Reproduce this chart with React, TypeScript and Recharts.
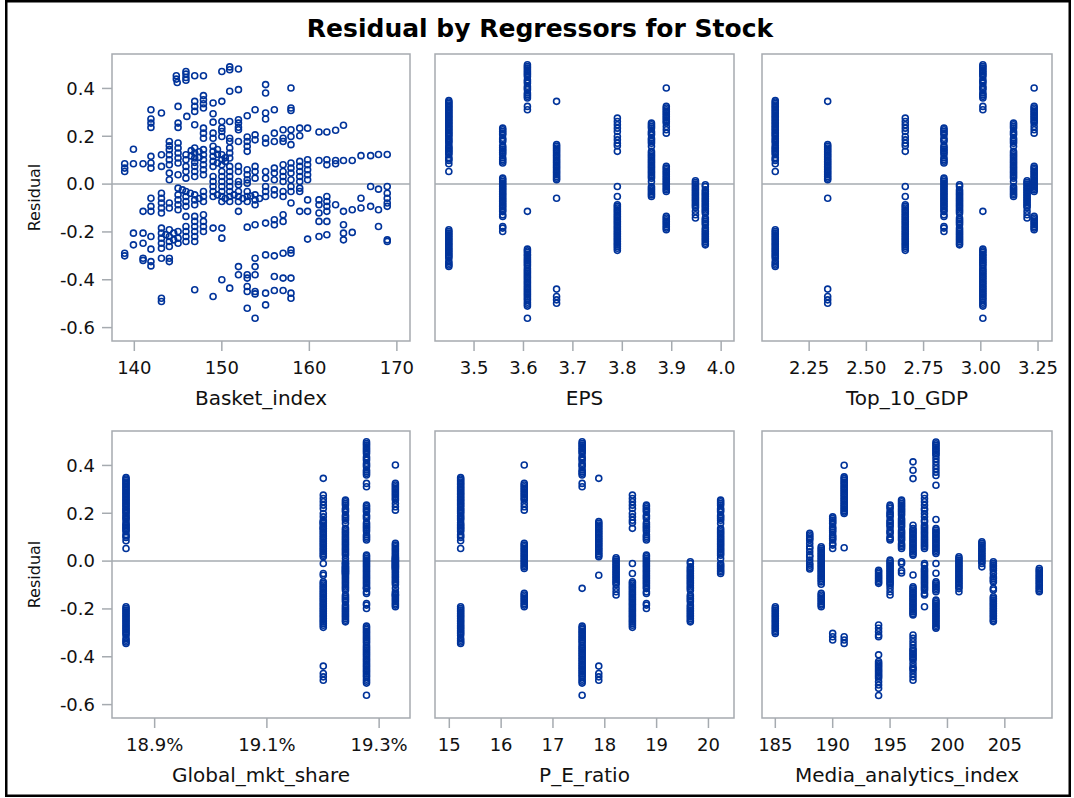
import React from 'react';
import { ScatterChart, Scatter, XAxis, YAxis, ReferenceArea, ReferenceLine } from 'recharts';

const BLUE = '#00339A';
const FRAME = '#A6ABB0';
const TEXT = '#111111';
const FONT = '"DejaVu Sans", sans-serif';

const Y_DOMAIN: [number, number] = [-0.656, 0.544];
const Y_TICKS = [-0.6, -0.4, -0.2, 0, 0.2, 0.4];

// Residuals of the observations in each reporting period (regressors are constant inside a period)
const resA = [0.349, 0.343, 0.337, 0.331, 0.325, 0.319, 0.313, 0.307, 0.301, 0.295, 0.289, 0.283, 0.277, 0.271, 0.265, 0.259, 0.253, 0.247, 0.241, 0.235, 0.229, 0.223, 0.217, 0.211, 0.205, 0.199, 0.191, 0.184, 0.178, 0.172, 0.160, 0.154, 0.148, 0.142, 0.136, 0.130, 0.124, 0.111, 0.105, 0.099, 0.085, 0.053,
  -0.191, -0.198, -0.205, -0.212, -0.219, -0.226, -0.233, -0.240, -0.247, -0.254, -0.261, -0.268, -0.275, -0.282, -0.289, -0.296, -0.303, -0.310, -0.324, -0.331, -0.338, -0.344];
const resB = [0.234, 0.227, 0.220, 0.213, 0.206, 0.192, 0.185, 0.178, 0.160, 0.153, 0.146, 0.139, 0.132, 0.125, 0.110, 0.103, 0.096, 0.088,
  0.025, 0.018, 0.011, 0.004, -0.003, -0.010, -0.017, -0.024, -0.031, -0.038, -0.045, -0.052, -0.059, -0.066, -0.073, -0.080, -0.087, -0.094, -0.101, -0.108, -0.115, -0.128, -0.135,
  -0.177, -0.184, -0.198];
const resC = [0.499, 0.492, 0.485, 0.478, 0.471, 0.464, 0.457, 0.450, 0.436, 0.429, 0.422, 0.409, 0.402, 0.395, 0.381, 0.374, 0.367, 0.360, 0.325, 0.311, -0.114,
  -0.272, -0.279, -0.286, -0.293, -0.300, -0.307, -0.314, -0.321, -0.328, -0.335, -0.342, -0.352, -0.359, -0.366, -0.373, -0.380, -0.387, -0.394, -0.401, -0.408, -0.415, -0.422, -0.429, -0.436, -0.443, -0.450, -0.457, -0.464, -0.471, -0.478, -0.485, -0.494, -0.502, -0.510, -0.561];
const resD = [0.346, 0.165, 0.158, 0.151, 0.144, 0.137, 0.130, 0.123, 0.116, 0.109, 0.102, 0.095, 0.088, 0.081, 0.074, 0.067, 0.060, 0.053, 0.046, 0.039, 0.032, 0.025, 0.018, -0.059,
  -0.439, -0.470, -0.484, -0.498];
const resE = [0.276, 0.262, 0.248, 0.234, 0.220, 0.199, 0.185, 0.171, 0.160, 0.137, -0.010, -0.052,
  -0.086, -0.093, -0.100, -0.107, -0.114, -0.121, -0.128, -0.135, -0.142, -0.149, -0.156, -0.163, -0.170, -0.177, -0.184, -0.191, -0.198, -0.205, -0.212, -0.219, -0.226, -0.233, -0.240, -0.247, -0.254, -0.261, -0.268, -0.277];
const resF = [0.255, 0.248, 0.241, 0.234, 0.220, 0.213, 0.206, 0.192, 0.185, 0.178, 0.171, 0.158,
  0.137, 0.130, 0.123, 0.116, 0.109, 0.102, 0.095, 0.088, 0.081, 0.074, 0.067, 0.060, 0.053, 0.046, 0.039, 0.032, 0.025, 0.011, -0.010, -0.017, -0.024, -0.031, -0.038, -0.045, -0.052];
const resG = [0.402, 0.325, 0.318, 0.311, 0.304, 0.297, 0.290, 0.283, 0.276, 0.269, 0.262, 0.255, 0.241, 0.227, 0.213,
  0.074, 0.067, 0.060, 0.053, 0.046, 0.039, 0.032, 0.025, 0.018, 0.011, 0.004, -0.003, -0.010, -0.017, -0.024, -0.031,
  -0.135, -0.142, -0.149, -0.156, -0.163, -0.170, -0.177, -0.184, -0.191];
const resH = [0.014, 0.007, 0.000, -0.007, -0.014, -0.021, -0.028, -0.035, -0.042, -0.049, -0.056, -0.063, -0.070, -0.077, -0.084, -0.091, -0.098, -0.114, -0.128, -0.142];
const resI = [-0.003, -0.010, -0.024, -0.031, -0.038, -0.045, -0.052, -0.059, -0.066, -0.073, -0.080, -0.087, -0.094, -0.101, -0.108, -0.115, -0.122,
  -0.142, -0.149, -0.156, -0.163, -0.170, -0.184, -0.191, -0.198, -0.205, -0.212, -0.219, -0.226, -0.233, -0.240, -0.247, -0.254];

const PERIODS = [resA, resB, resC, resD, resE, resF, resG, resH, resI];

// Regressor value of each period, same order as PERIODS
const EPS_BY_PERIOD = [3.449, 3.558, 3.608, 3.667, 3.790, 3.859, 3.889, 3.948, 3.968];
const GDP_BY_PERIOD = [2.102, 2.839, 3.009, 2.331, 2.670, 3.143, 3.233, 3.202, 2.907];
const SHARE_BY_PERIOD = [18.849, 19.2775, 19.2775, 19.2005, 19.2005, 19.240, 19.329, 19.329, 19.240];
const PE_BY_PERIOD = [15.219, 18.803, 17.563, 17.884, 18.533, 20.235, 16.446, 18.218, 19.651];

// Media_analytics_index is reported more often, so its columns are finer
const MEDIA_LEVELS = [185, 188, 189, 190, 191, 194, 195, 196, 197, 198, 199, 201, 203, 204, 208];
const media185 = [-0.191, -0.198, -0.205, -0.212, -0.219, -0.226, -0.233, -0.240, -0.247, -0.254, -0.261, -0.268, -0.275, -0.282, -0.289, -0.296, -0.303];
const media188 = [0.116, 0.109, 0.102, 0.095, 0.088, 0.074, 0.060, 0.053, 0.039, 0.025, 0.018, 0.004, -0.010, -0.017, -0.026, -0.033];
const media189 = [0.060, 0.053, 0.046, 0.039, 0.032, 0.025, 0.018, 0.011, 0.004, -0.003, -0.010, -0.017, -0.024, -0.031, -0.038, -0.045, -0.052, -0.059, -0.066, -0.073, -0.080, -0.087, -0.097,
  -0.135, -0.142, -0.149, -0.156, -0.163, -0.170, -0.177, -0.184, -0.191];
const media190 = [0.185, 0.178, 0.171, 0.164, 0.157, 0.143, 0.136, 0.129, 0.122, 0.109, 0.102, 0.095, 0.088, 0.074, 0.067, 0.053, -0.302, -0.316, -0.330];
const media191 = [0.401, 0.352, 0.345, 0.338, 0.331, 0.324, 0.317, 0.310, 0.303, 0.296, 0.289, 0.282, 0.275, 0.268, 0.261, 0.254, 0.247, 0.240, 0.233, 0.226, 0.219, 0.212, 0.205, 0.199, 0.056,
  -0.316, -0.330, -0.344];
const media194 = [-0.038, -0.045, -0.052, -0.059, -0.066, -0.073, -0.080, -0.087, -0.093, -0.267, -0.281, -0.295, -0.309, -0.316,
  -0.392, -0.420, -0.427, -0.434, -0.441, -0.448, -0.455, -0.462, -0.469, -0.476, -0.483, -0.490, -0.504, -0.518, -0.532, -0.562];
const media195 = [0.234, 0.227, 0.220, 0.206, 0.199, 0.192, 0.185, 0.171, 0.164, 0.157, 0.150, 0.143, 0.129, 0.122, 0.115, 0.101, 0.095, 0.088,
  0.004, -0.003, -0.010, -0.017, -0.024, -0.031, -0.038, -0.045, -0.052, -0.059, -0.066, -0.073, -0.080, -0.087, -0.094, -0.101, -0.114, -0.128, -0.142];
const media196 = [0.255, 0.248, 0.241, 0.234, 0.227, 0.220, 0.213, 0.206, 0.199, 0.192, 0.178, 0.171, 0.164, 0.157, 0.150, 0.143, 0.129, 0.122, 0.115, 0.108, 0.101, 0.094, 0.087, 0.073, 0.066, 0.060, 0.053,
  -0.003, -0.010, -0.040, -0.050];
const media197 = [0.415, 0.380, 0.345, 0.150, 0.136, 0.129, 0.122, 0.115, 0.108, 0.101, 0.094, 0.087, 0.080, 0.073, 0.066, 0.059, 0.052, 0.045, 0.038, 0.031, 0.025, -0.058,
  -0.107, -0.114, -0.121, -0.128, -0.135, -0.142, -0.149, -0.156, -0.163, -0.170, -0.177, -0.184, -0.191, -0.198, -0.205, -0.212, -0.219, -0.225,
  -0.309, -0.323, -0.337, -0.351, -0.365, -0.372, -0.379, -0.386, -0.393, -0.400, -0.407, -0.414, -0.428, -0.442, -0.449, -0.456, -0.470, -0.484, -0.498];
const media198 = [0.276, 0.262, 0.248, 0.234, 0.220, 0.213, 0.199, 0.185, 0.171, 0.164, 0.150, 0.143, 0.136, 0.129, 0.122, 0.115, 0.108, 0.101, 0.094, 0.087, 0.080, 0.073, 0.066, 0.060, 0.053,
  -0.010, -0.017, -0.031, -0.038, -0.045, -0.052, -0.059, -0.066, -0.073, -0.080, -0.087, -0.094, -0.101, -0.108, -0.115, -0.122, -0.135, -0.142, -0.191];
const media199 = [0.498, 0.491, 0.484, 0.477, 0.470, 0.463, 0.456, 0.449, 0.442, 0.428, 0.414, 0.400, 0.386, 0.372, 0.358, 0.317, 0.174,
  0.136, 0.129, 0.122, 0.115, 0.108, 0.101, 0.094, 0.087, 0.080, 0.073, 0.066, 0.059, 0.052, 0.045, 0.038, 0.032, -0.010, -0.051,
  -0.086, -0.093, -0.100, -0.107, -0.114, -0.121, -0.128,
  -0.163, -0.170, -0.177, -0.184, -0.191, -0.198, -0.205, -0.212, -0.219, -0.226, -0.233, -0.240, -0.247, -0.254, -0.261, -0.268, -0.275, -0.281];
const media201 = [0.018, 0.011, 0.004, -0.003, -0.010, -0.017, -0.024, -0.031, -0.038, -0.045, -0.052, -0.059, -0.066, -0.073, -0.080, -0.087, -0.094, -0.101, -0.108, -0.115, -0.128];
const media203 = [0.081, 0.074, 0.067, 0.060, 0.053, 0.046, 0.039, 0.032, 0.025, 0.018, 0.011, 0.004, -0.003, -0.010, -0.024];
const media204 = [-0.003, -0.010, -0.017, -0.024, -0.031, -0.038, -0.052, -0.066, -0.073, -0.080, -0.087, -0.114, -0.121,
  -0.149, -0.156, -0.163, -0.170, -0.177, -0.184, -0.191, -0.198, -0.205, -0.212, -0.219, -0.226, -0.233, -0.240, -0.247, -0.253];
const media208 = [-0.031, -0.038, -0.045, -0.052, -0.059, -0.066, -0.073, -0.080, -0.087, -0.094, -0.101, -0.108, -0.115, -0.122, -0.128];
const MEDIA_COLUMNS = [media185, media188, media189, media190, media191, media194, media195, media196, media197, media198, media199, media201, media203, media204, media208];

// Basket_index varies by observation: [Basket_index, Residual]
const basketPoints: [number, number][] = [
  [144.8, 0.453], [144.8, 0.439], [144.9, 0.425], [145.9, 0.471], [145.9, 0.460], [145.9, 0.446], [145.9, 0.434], [146.9, 0.453], [147.9, 0.453], [150.0, 0.471], [150.9, 0.490], [150.9, 0.478], [151.9, 0.481], [155.0, 0.416],
  [157.9, 0.402], [155.0, 0.381], [150.9, 0.388], [151.9, 0.395], [146.9, 0.346], [147.9, 0.370], [147.9, 0.353], [147.9, 0.336], [149.0, 0.339], [150.0, 0.346], [145.0, 0.325], [146.9, 0.325], [147.9, 0.318], [141.9, 0.311], [143.1, 0.297],
  [146.9, 0.304], [149.0, 0.294], [150.0, 0.262], [150.9, 0.262], [151.9, 0.269], [151.9, 0.238], [152.9, 0.286], [153.8, 0.311], [155.0, 0.297], [155.0, 0.272], [156.0, 0.311], [157.9, 0.318], [157.9, 0.308],
  [141.9, 0.272], [141.9, 0.255], [141.9, 0.237], [145.0, 0.255], [145.0, 0.237], [146.0, 0.283], [146.9, 0.248], [149.0, 0.259], [150.0, 0.234], [150.0, 0.220],
  [147.9, 0.234], [147.9, 0.213], [147.9, 0.192], [149.0, 0.192], [151.9, 0.255], [151.9, 0.227], [152.9, 0.197], [153.8, 0.206], [155.0, 0.192], [156.0, 0.213], [157.0, 0.227], [157.9, 0.227], [158.9, 0.234], [159.8, 0.234],
  [161.1, 0.218], [162.0, 0.218], [163.0, 0.225], [163.9, 0.246], [157.0, 0.192], [157.9, 0.199], [158.9, 0.202], [152.9, 0.178], [153.8, 0.185], [155.0, 0.172], [156.0, 0.178], [157.0, 0.178], [157.9, 0.165], [151.9, 0.178],
  [149.0, 0.213], [150.0, 0.199], [150.9, 0.192], [150.9, 0.178],
  [139.9, 0.146], [138.9, 0.085], [138.9, 0.067], [138.9, 0.053], [139.9, 0.085], [141.0, 0.085], [141.9, 0.116], [141.9, 0.088], [141.9, 0.067], [143.1, 0.123],
  [144.0, 0.178], [144.0, 0.160], [144.0, 0.144], [144.0, 0.123], [144.0, 0.102], [144.0, 0.081],
  [145.0, 0.172], [145.0, 0.151], [145.0, 0.130], [145.0, 0.109], [145.0, 0.088],
  [145.9, 0.123], [145.9, 0.102], [145.9, 0.074], [145.9, 0.053],
  [146.9, 0.151], [146.9, 0.130], [146.9, 0.109], [146.9, 0.091], [146.9, 0.074], [146.9, 0.053], [146.9, 0.032],
  [147.9, 0.144], [147.9, 0.123], [147.9, 0.102], [147.9, 0.081], [147.9, 0.060], [147.9, 0.039],
  [149.0, 0.158], [149.0, 0.137], [149.0, 0.116], [149.0, 0.095], [149.0, 0.074],
  [150.0, 0.123], [150.0, 0.102], [150.0, 0.081], [150.0, 0.053], [150.0, 0.032], [150.0, 0.011],
  [150.9, 0.151], [150.9, 0.130], [150.9, 0.109], [150.9, 0.074], [150.9, 0.053], [150.9, 0.032], [150.9, 0.011],
  [152.9, 0.158], [152.9, 0.137], [153.8, 0.074], [153.8, 0.053],
  [155.0, 0.053], [155.0, 0.025], [155.0, -0.010], [156.0, 0.067], [156.0, 0.046], [156.0, 0.018],
  [157.0, 0.081], [157.0, 0.053], [157.0, 0.032], [157.0, 0.011],
  [157.9, 0.088], [157.9, 0.067], [157.9, 0.046], [157.9, 0.018], [157.9, -0.010],
  [158.9, 0.095], [158.9, 0.074], [158.9, 0.053], [158.9, 0.032], [158.9, 0.011], [158.9, -0.017],
  [159.8, 0.102], [159.8, 0.081], [159.8, 0.060], [159.8, 0.039], [159.8, 0.018],
  [161.1, 0.099], [162.0, 0.102], [163.0, 0.099], [163.9, 0.099], [164.9, 0.099], [165.9, 0.119], [167.0, 0.119], [167.9, 0.124], [168.9, 0.124], [162.0, 0.081], [163.0, 0.085],
  [143.1, 0.074], [144.0, 0.046], [145.0, 0.039], [145.9, 0.025], [144.0, 0.018],
  [151.9, 0.074], [151.9, 0.053], [152.9, 0.060], [152.9, 0.039], [152.9, 0.018], [153.8, 0.025], [151.9, 0.011],
  [146.5, 0.140], [147.4, 0.135], [146.5, 0.118], [147.4, 0.112], [149.5, 0.145], [149.5, 0.125], [150.4, 0.110], [149.5, 0.088], [150.4, 0.095],
  [149.0, 0.032], [149.0, 0.011], [149.0, -0.010], [149.0, -0.031], [149.0, -0.052],
  [150.0, -0.010], [150.0, -0.031], [150.0, -0.052], [150.0, -0.073],
  [150.9, -0.010], [150.9, -0.031], [150.9, -0.052], [150.9, -0.073],
  [151.9, -0.003], [151.9, -0.031], [151.9, -0.052], [151.9, -0.073], [151.9, -0.114],
  [152.9, 0.004], [152.9, -0.031], [152.9, -0.052], [152.9, -0.073],
  [149.5, -0.045], [150.4, -0.060], [151.4, -0.045], [152.4, -0.060], [153.3, -0.050], [154.3, -0.060],
  [153.8, -0.045], [153.8, -0.066], [153.8, -0.086], [155.0, -0.031], [155.0, -0.052], [156.0, -0.024], [156.0, -0.045],
  [157.0, -0.031], [157.0, -0.052], [157.9, -0.031], [157.9, -0.079], [158.9, -0.031], [158.9, -0.114], [159.8, -0.066], [159.8, -0.114],
  [161.1, -0.066], [161.1, -0.086], [161.1, -0.121], [161.1, -0.156],
  [162.0, -0.052], [162.0, -0.073], [162.0, -0.093], [162.0, -0.114], [163.0, -0.086],
  [163.9, -0.114], [163.9, -0.170], [163.9, -0.205], [163.9, -0.233], [164.9, -0.107], [164.9, -0.202],
  [165.9, -0.059], [165.9, -0.100], [167.0, -0.010], [167.0, -0.093], [167.9, -0.021], [167.9, -0.107], [167.9, -0.177],
  [168.9, -0.010], [168.9, -0.038], [168.9, -0.059], [168.9, -0.079], [168.9, -0.093], [168.9, -0.233], [168.9, -0.240],
  [162.0, -0.156], [162.0, -0.212], [161.1, -0.219], [159.8, -0.230],
  [141.9, -0.059], [141.9, -0.093], [141.9, -0.114], [141.0, -0.114],
  [143.1, -0.038], [143.1, -0.059], [143.1, -0.079], [143.1, -0.100], [143.1, -0.121], [144.0, -0.079], [144.0, -0.100],
  [145.0, -0.017], [145.0, -0.045], [145.0, -0.066], [145.0, -0.086], [145.0, -0.107],
  [145.9, -0.031], [145.9, -0.052], [145.9, -0.073], [145.9, -0.093], [145.9, -0.135],
  [146.9, -0.045], [146.9, -0.066], [146.9, -0.086], [146.9, -0.135], [146.9, -0.156],
  [147.9, -0.031], [147.9, -0.052], [147.9, -0.073], [147.9, -0.128], [147.9, -0.156], [147.9, -0.177], [147.9, -0.198],
  [145.5, -0.024], [146.4, -0.038], [147.4, -0.060],
  [149.0, -0.184], [150.0, -0.184], [150.0, -0.226],
  [152.9, -0.180], [153.8, -0.170], [155.0, -0.163], [156.0, -0.149], [156.0, -0.170], [157.0, -0.128], [157.0, -0.156],
  [139.9, -0.205], [141.0, -0.205], [141.9, -0.219], [143.1, -0.184], [143.1, -0.205], [143.1, -0.226], [143.1, -0.247], [143.1, -0.268],
  [144.0, -0.191], [144.0, -0.219], [144.0, -0.240], [144.0, -0.261], [145.0, -0.198], [145.0, -0.226], [145.0, -0.247],
  [145.9, -0.177], [145.9, -0.198], [145.9, -0.219], [145.9, -0.240], [146.9, -0.177], [146.9, -0.198], [146.9, -0.219], [146.9, -0.240],
  [143.6, -0.212], [144.5, -0.233], [144.5, -0.205],
  [138.9, -0.289], [138.9, -0.300], [139.9, -0.254], [141.0, -0.247], [141.0, -0.310], [141.0, -0.319], [141.9, -0.272], [141.9, -0.324], [141.9, -0.342],
  [143.1, -0.310], [144.0, -0.310], [144.0, -0.324], [143.1, -0.477], [143.1, -0.491],
  [153.8, -0.310], [155.0, -0.296], [156.0, -0.300], [157.0, -0.289], [157.9, -0.275], [157.9, -0.289],
  [151.9, -0.345], [151.9, -0.379], [152.9, -0.379], [153.8, -0.379], [152.9, -0.393], [153.8, -0.345],
  [156.0, -0.386], [157.0, -0.393], [157.9, -0.393], [150.0, -0.400], [150.9, -0.435], [146.9, -0.442], [149.0, -0.470],
  [152.9, -0.428], [152.9, -0.449], [153.8, -0.449], [153.8, -0.459], [155.0, -0.456], [156.0, -0.445], [157.0, -0.445], [157.9, -0.456], [157.9, -0.477],
  [152.9, -0.519], [153.8, -0.561], [155.0, -0.505],
];

type Pt = { x: number; y: number };

const byPeriod = (levels: number[]): Pt[] =>
  PERIODS.flatMap((res, i) => res.map((y) => ({ x: levels[i], y })));

const basketData: Pt[] = basketPoints.map(([x, y]) => ({ x, y }));
const epsData = byPeriod(EPS_BY_PERIOD);
const gdpData = byPeriod(GDP_BY_PERIOD);
const shareData = byPeriod(SHARE_BY_PERIOD);
const peData = byPeriod(PE_BY_PERIOD);
const mediaData: Pt[] = MEDIA_COLUMNS.flatMap((res, i) => res.map((y) => ({ x: MEDIA_LEVELS[i], y })));

const Ring = (props: any) => {
  const { cx, cy } = props;
  if (cx == null || cy == null) return <g />;
  return <circle cx={cx} cy={cy} r={3} fill="none" stroke={BLUE} strokeWidth={1.6} />;
};

type PanelProps = {
  left: number;
  top: number;
  plotW: number;
  xDomain: [number, number];
  xTicks: number[];
  fmt: (v: number) => string;
  label: string;
  data: Pt[];
  showY: boolean;
};

const PLOT_H = 287;
const MT = 10;
const MR = 14;
const ML = 20;
const XH = 75;

function Panel({ left, top, plotW, xDomain, xTicks, fmt, label, data, showY }: PanelProps) {
  const yw = showY ? 112 : 0;
  const ml = showY ? 0 : ML;
  return (
    <div style={{ position: 'absolute', left: left - yw - ml, top: top - MT }}>
      <ScatterChart
        width={ml + yw + plotW + MR}
        height={MT + PLOT_H + XH}
        margin={{ top: MT, right: MR, bottom: 0, left: ml }}
        style={{ overflow: 'visible' }}
      >
        <XAxis
          type="number"
          dataKey="x"
          domain={xDomain}
          ticks={xTicks}
          interval={0}
          allowDataOverflow
          tickFormatter={fmt}
          axisLine={false}
          tickLine={{ stroke: FRAME, strokeWidth: 1.5 }}
          tickSize={10}
          tickMargin={10}
          height={XH}
          tick={{ fontSize: 18, fill: TEXT }}
          label={{ value: label, position: 'insideBottom', offset: 11, fontSize: 20, fill: TEXT }}
        />
        <YAxis
          type="number"
          dataKey="y"
          domain={Y_DOMAIN}
          ticks={Y_TICKS}
          interval={0}
          allowDataOverflow
          hide={!showY}
          width={yw}
          tickFormatter={(v: number) => v.toFixed(1)}
          axisLine={false}
          tickLine={{ stroke: FRAME, strokeWidth: 1.5 }}
          tickSize={10}
          tickMargin={7}
          tick={{ fontSize: 18, fill: TEXT }}
          label={{ value: 'Residual', angle: -90, position: 'insideLeft', offset: 34, fontSize: 16, fill: TEXT, style: { textAnchor: 'middle' } }}
        />
        <ReferenceArea
          x1={xDomain[0]}
          x2={xDomain[1]}
          y1={Y_DOMAIN[0]}
          y2={Y_DOMAIN[1]}
          fill="none"
          fillOpacity={0}
          stroke={FRAME}
          strokeWidth={1.5}
          ifOverflow="visible"
        />
        <ReferenceLine y={0} stroke={FRAME} strokeWidth={1.5} />
        <Scatter data={data} shape={Ring} isAnimationActive={false} />
      </ScatterChart>
    </div>
  );
}

const int = (v: number) => String(Math.round(v));

export default function App() {
  return (
    <div
      style={{
        position: 'absolute',
        left: 0,
        top: 0,
        width: 1074,
        height: 798,
        background: '#fff',
        fontFamily: FONT,
        overflow: 'hidden',
      }}
    >
      <svg width={1074} height={798} style={{ position: 'absolute', left: 0, top: 0 }}>
        <rect x={6.25} y={1.25} width={1063.5} height={794.5} fill="none" stroke="#000" strokeWidth={2.5} />
        <text x={540} y={37} textAnchor="middle" fontSize={25} fontWeight="bold" fill="#000">
          Residual by Regressors for Stock
        </text>
      </svg>
      <Panel left={112} top={54} plotW={298} xDomain={[137.45, 171.5]} xTicks={[140, 150, 160, 170]} fmt={int} label="Basket_index" data={basketData} showY />
      <Panel left={435} top={54} plotW={299} xDomain={[3.421, 4.026]} xTicks={[3.5, 3.6, 3.7, 3.8, 3.9, 4.0]} fmt={(v) => v.toFixed(1)} label="EPS" data={epsData} showY={false} />
      <Panel left={762} top={54} plotW={290} xDomain={[2.044, 3.311]} xTicks={[2.25, 2.5, 2.75, 3.0, 3.25]} fmt={(v) => v.toFixed(2)} label="Top_10_GDP" data={gdpData} showY={false} />
      <Panel left={112} top={431} plotW={298} xDomain={[18.824, 19.355]} xTicks={[18.9, 19.1, 19.3]} fmt={(v) => v.toFixed(1) + '%'} label="Global_mkt_share" data={shareData} showY />
      <Panel left={435} top={431} plotW={299} xDomain={[14.724, 20.493]} xTicks={[15, 16, 17, 18, 19, 20]} fmt={int} label="P_E_ratio" data={peData} showY={false} />
      <Panel left={762} top={431} plotW={290} xDomain={[183.84, 209.11]} xTicks={[185, 190, 195, 200, 205]} fmt={int} label="Media_analytics_index" data={mediaData} showY={false} />
    </div>
  );
}
